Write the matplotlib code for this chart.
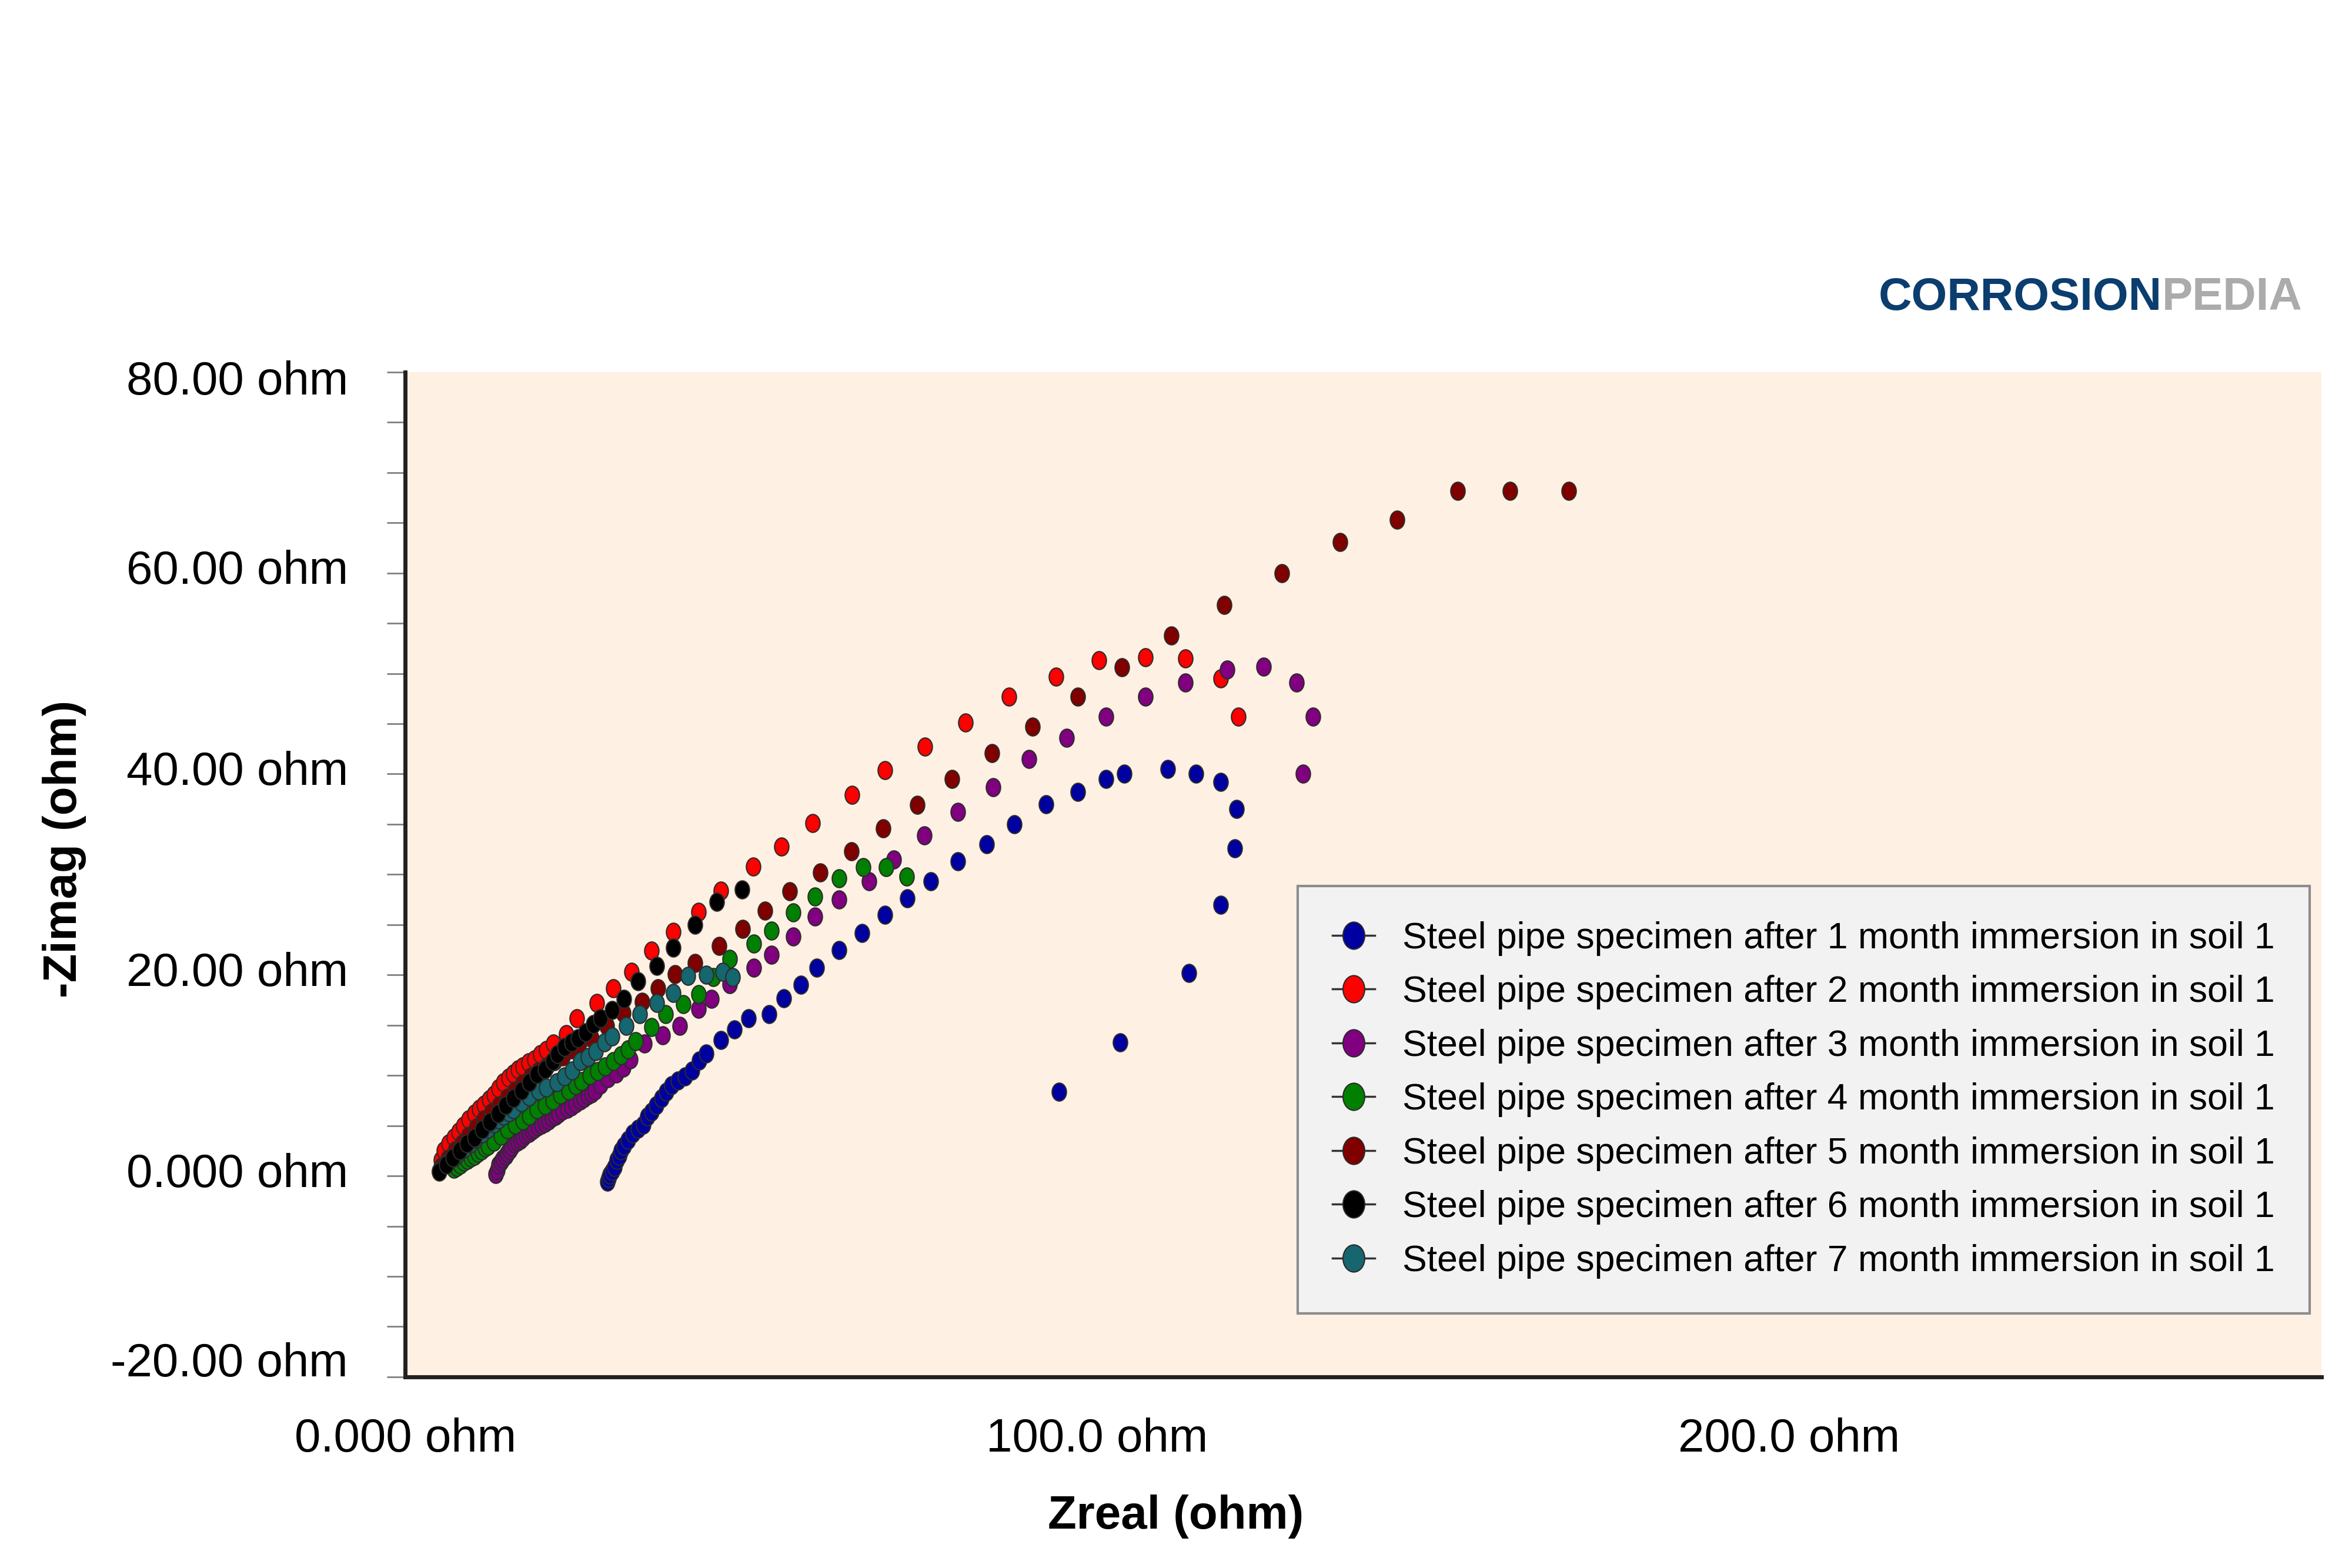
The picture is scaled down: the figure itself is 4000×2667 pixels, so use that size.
# -*- coding: utf-8 -*-

import numpy as np
import matplotlib
matplotlib.use('Agg')
import matplotlib.pyplot as plt
from matplotlib.path import Path
from matplotlib.lines import Line2D
from matplotlib.transforms import ScaledTranslation

# ------- data: Nyquist plot, Zreal / -Zimag in ohm -------
zre1 = [29.2, 29.4, 29.6, 29.9, 30.2, 30.6, 30.9, 31.2, 31.6, 32.2, 32.9, 33.6, 34.4, 35.0, 35.6,
        36.3, 37.0, 37.7, 38.5, 39.4, 40.4, 41.5, 42.5, 43.5, 45.6, 47.6, 49.6, 52.6, 54.7, 57.2,
        59.5, 62.7, 66.0, 69.3, 72.6, 76.0, 79.9, 84.0, 88.0, 92.6, 97.2, 101.3, 103.9, 110.2, 114.3,
        117.9, 120.2, 119.9, 117.9, 113.3, 103.3, 94.5]
zim1 = [-0.6, -0.2, 0.1, 0.5, 0.9, 1.6, 2.0, 2.5, 3.0, 3.6, 4.2, 4.7, 5.1, 5.9, 6.4,
        7.0, 7.7, 8.4, 9.0, 9.5, 9.9, 10.5, 11.5, 12.2, 13.5, 14.6, 15.7, 16.1, 17.7, 19.0,
        20.7, 22.5, 24.2, 26.0, 27.6, 29.3, 31.3, 33.0, 35.0, 37.0, 38.2, 39.5, 40.0, 40.5, 40.0,
        39.2, 36.5, 32.6, 27.0, 20.2, 13.3, 8.4]

zre2 = [5.2, 5.6, 6.3, 7.0, 7.7, 8.4, 9.2, 10.0, 10.7, 11.4, 12.1, 12.8, 13.5, 14.2, 14.9,
        15.6, 16.3, 17.0, 17.8, 18.7, 19.5, 20.4, 21.4, 23.3, 24.8, 27.7, 30.1, 32.7, 35.6, 38.7,
        42.4, 45.6, 50.3, 54.4, 58.9, 64.6, 69.3, 75.1, 81.0, 87.3, 94.1, 100.3, 107.0, 112.8, 117.9,
        120.4]
zim2 = [1.6, 2.5, 3.2, 3.8, 4.4, 5.0, 5.6, 6.2, 6.7, 7.1, 7.6, 8.1, 8.7, 9.3, 9.8,
        10.2, 10.6, 10.9, 11.3, 11.6, 12.1, 12.5, 13.2, 14.1, 15.7, 17.2, 18.7, 20.3, 22.4, 24.3,
        26.3, 28.4, 30.8, 32.8, 35.1, 37.9, 40.4, 42.7, 45.1, 47.7, 49.7, 51.3, 51.6, 51.5, 49.5,
        45.7]

zre3 = [13.1, 13.3, 13.5, 13.8, 14.1, 14.5, 14.8, 15.1, 15.4, 15.8, 16.2, 16.6, 17.0, 17.4, 17.9,
        18.3, 18.7, 19.2, 19.7, 20.2, 20.7, 21.2, 21.7, 22.2, 22.8, 23.4, 24.0, 24.6, 25.3, 25.8,
        26.4, 26.9, 27.4, 28.2, 29.3, 30.5, 31.5, 32.5, 34.6, 37.2, 39.7, 42.4, 44.3, 46.9, 50.4,
        52.9, 56.1, 59.2, 62.7, 67.0, 70.6, 75.0, 79.9, 85.0, 90.2, 95.6, 101.3, 107.0, 112.8, 118.8,
        124.1, 128.8, 131.2, 129.8]
zim3 = [0.2, 0.6, 1.1, 1.4, 1.7, 2.0, 2.3, 2.6, 2.9, 3.2, 3.4, 3.6, 3.8, 4.1, 4.3,
        4.5, 4.7, 4.9, 5.1, 5.3, 5.5, 5.8, 6.0, 6.2, 6.5, 6.7, 6.9, 7.2, 7.5, 7.7,
        8.0, 8.2, 8.5, 9.1, 9.7, 10.2, 10.8, 11.6, 13.2, 14.0, 14.9, 16.6, 17.6, 19.1, 20.7,
        22.0, 23.8, 25.8, 27.5, 29.3, 31.5, 33.9, 36.2, 38.7, 41.5, 43.6, 45.7, 47.7, 49.1, 50.4,
        50.7, 49.1, 45.7, 40.0]

zre4 = [7.0, 7.5, 8.0, 8.5, 9.0, 9.5, 10.0, 10.5, 11.0, 11.5, 12.0, 12.8, 13.8, 14.8, 15.9,
        17.0, 17.9, 19.0, 20.2, 21.3, 22.4, 23.6, 24.6, 25.5, 26.7, 27.8, 28.9, 30.1, 31.2, 32.2,
        33.3, 35.6, 37.6, 40.2, 42.4, 44.5, 46.9, 50.4, 52.9, 56.1, 59.2, 62.7, 66.2, 69.5, 72.5]
zim4 = [0.7, 0.9, 1.1, 1.4, 1.6, 1.8, 2.0, 2.3, 2.5, 2.8, 3.0, 3.4, 4.0, 4.6, 5.1,
        5.5, 6.0, 6.6, 7.0, 7.5, 8.1, 8.5, 9.0, 9.4, 10.0, 10.4, 10.9, 11.4, 12.0, 12.6,
        13.4, 14.8, 16.1, 17.1, 18.1, 19.8, 21.6, 23.1, 24.4, 26.2, 27.8, 29.6, 30.7, 30.7, 29.8]

zre5 = [5.2, 6.2, 7.2, 8.2, 9.2, 10.3, 11.4, 12.5, 13.6, 14.8, 15.9, 17.0, 18.2, 19.3, 20.5,
        21.6, 22.8, 24.0, 25.1, 26.9, 29.1, 31.5, 34.2, 36.5, 39.0, 41.9, 45.4, 48.8, 52.0, 55.6,
        60.0, 64.5, 69.1, 74.0, 79.0, 84.8, 90.7, 97.2, 103.6, 110.7, 118.4, 126.7, 135.1, 143.4, 152.1,
        159.7, 168.2]
zim5 = [0.9, 1.7, 2.5, 3.2, 4.0, 4.8, 5.6, 6.3, 7.0, 7.8, 8.5, 9.2, 9.9, 10.4, 10.9,
        11.4, 11.9, 12.6, 13.2, 13.7, 14.9, 16.2, 17.3, 18.7, 20.1, 21.2, 22.9, 24.6, 26.4, 28.3,
        30.2, 32.3, 34.6, 36.9, 39.5, 42.1, 44.7, 47.7, 50.6, 53.8, 56.8, 60.0, 63.1, 65.3, 68.2,
        68.2, 68.2]

zre6 = [4.9, 5.9, 6.9, 7.9, 8.9, 10.0, 11.1, 12.2, 13.4, 14.5, 15.6, 16.8, 17.9, 19.0, 20.2,
        21.3, 22.0, 23.0, 24.0, 25.0, 26.1, 27.2, 28.2, 29.9, 31.6, 33.6, 36.4, 38.7, 41.9, 45.0,
        48.7]
zim6 = [0.4, 1.1, 1.8, 2.5, 3.2, 3.8, 4.6, 5.4, 6.2, 7.0, 7.7, 8.5, 9.3, 10.1, 10.6,
        11.4, 12.1, 12.8, 13.3, 13.7, 14.3, 15.1, 15.7, 16.5, 17.6, 19.4, 20.9, 22.7, 25.0, 27.3,
        28.5]

zre7 = [4.9, 6.0, 7.0, 7.7, 8.5, 9.4, 10.2, 11.1, 12.0, 12.8, 13.5, 14.2, 15.0, 15.6, 16.8,
        17.9, 19.3, 20.4, 21.9, 23.0, 24.1, 25.3, 26.4, 27.5, 28.8, 29.9, 31.9, 33.9, 36.4, 38.7,
        40.9, 43.5, 45.9, 47.3]
zim7 = [0.5, 1.3, 1.8, 2.3, 2.7, 3.2, 3.7, 4.2, 4.7, 5.2, 5.6, 6.0, 6.3, 6.6, 7.3,
        7.9, 8.5, 8.8, 9.3, 9.9, 10.5, 11.4, 11.8, 12.4, 13.3, 13.9, 14.9, 16.1, 17.2, 18.2,
        19.9, 20.0, 20.3, 19.8]

months = [1, 2, 3, 4, 5, 6, 7]
colors = ['#0000A0', '#FF0000', '#800080', '#008000', '#800000', '#000000', '#15666E']

xTicks = [0, 100, 200]
xTickLabels = ['0.000 ohm', '100.0 ohm', '200.0 ohm']
yTicks = [-20, 0, 20, 40, 60, 80]
yTickLabels = ['-20.00 ohm', '0.000 ohm', '20.00 ohm', '40.00 ohm', '60.00 ohm', '80.00 ohm']


#------- plot ------------------
plt.rcParams['font.family'] = ['Liberation Sans', 'DejaVu Sans']

# slightly tall ellipse used as the marker
circ = Path.unit_circle()
ellipse = Path(circ.vertices * np.array([0.8, 1.0]), circ.codes)
edge = '#2B2B2B'

fig = plt.figure(1, figsize=(16, 10.668))
ax = fig.add_axes([0.1723, 0.1219, 0.8148, 0.6408])
ax.set_facecolor('#FEF0E2')

series = [(zre1, zim1), (zre2, zim2), (zre3, zim3), (zre4, zim4),
          (zre5, zim5), (zre6, zim6), (zre7, zim7)]
zorders = [3, 4, 5, 6, 7, 9, 8]
for (zre, zim), c, zo in zip(series, colors, zorders):
    ax.plot(zre, zim, linestyle='none', marker=ellipse, ms=8.8,
            mfc=c, mec=edge, mew=0.6, zorder=zo, clip_on=False)

ax.set_xlim(0, 277)
ax.set_ylim(-20, 80)

ax.set_xticks(xTicks)
ax.set_xticklabels(xTickLabels)
ax.set_yticks(yTicks)
ax.set_yticklabels(yTickLabels)
ax.set_yticks(np.arange(-15, 80, 5), minor=True)

ax.tick_params(axis='y', which='both', direction='out', length=9, width=0.8,
               color='#808080', labelsize=23, pad=19)
ax.tick_params(axis='x', which='both', length=0, labelsize=23, pad=20)

# the labels sit a little off their ticks in the original
yShift = [8.5, 3.0, 3.0, 3.0, 3.0, -2.5]
for lab, dy in zip(ax.get_yticklabels(), yShift):
    lab.set_transform(lab.get_transform() + ScaledTranslation(0, dy / 72., fig.dpi_scale_trans))

for s in ['top', 'right']:
    ax.spines[s].set_visible(False)
for s in ['left', 'bottom']:
    ax.spines[s].set_color('#222222')
    ax.spines[s].set_linewidth(2.0)

ax.set_xlabel('Zreal (ohm)', fontsize=23, fontweight='bold')
ax.xaxis.set_label_coords(0.4022, -0.139)
ax.xaxis.label.set_va('center')
ax.set_ylabel('-Zimag (ohm)', fontsize=23, fontweight='bold')
ax.yaxis.set_label_coords(-0.178, 0.5255)
ax.yaxis.label.set_va('center')

labels = ['Steel pipe specimen after %d month immersion in soil 1' % m for m in months]
handles = [Line2D([0], [0], color='#333333', lw=1.0, marker=ellipse, ms=13.3,
                  mfc=c, mec=edge, mew=0.6) for c in colors]
leg = fig.legend(handles, labels, loc='lower right', bbox_to_anchor=(0.982, 0.1624),
                 fontsize=18, frameon=True, fancybox=False, framealpha=1,
                 facecolor='#F2F2F2', edgecolor='#8C8C8C', handlelength=1.15,
                 handletextpad=0.75, labelspacing=0.52, borderpad=0.95, borderaxespad=0)
leg.get_frame().set_linewidth(1.2)

# logo
pedia = fig.text(0.979, 0.8024, 'PEDIA', color='#ABABAB', fontsize=22.5,
                 fontweight='bold', ha='right', va='baseline')
ax.annotate('CORROSION', xy=(0, 0), xycoords=pedia, color='#0B3D6E', fontsize=22.5,
            fontweight='bold', ha='right', va='bottom', annotation_clip=False)

fig.savefig('out.png', dpi=250)
